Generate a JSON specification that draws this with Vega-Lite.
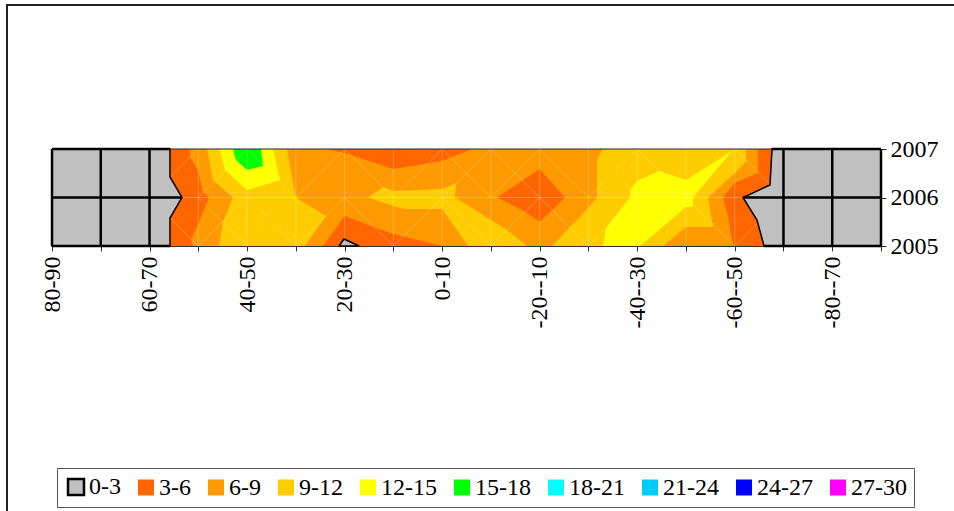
{"$schema":"https://vega.github.io/schema/vega-lite/v6.json","width":951,"height":510,"autosize":"none","padding":{"left":7,"top":5,"right":-4,"bottom":-4},"background":"white","config":{"view":{"stroke":"#222","strokeWidth":2},"font":"Liberation Serif","axis":{"labelOverlap":false,"labelBound":false,"labelFlush":false}},"datasets":{"polys":[
{"p":"base","b":"6-9","i":1,"lat":60.8,"yr":2007},{"p":"base","b":"6-9","i":2,"lat":-63.27,"yr":2007},{"p":"base","b":"6-9","i":3,"lat":-63.27,"yr":2005},{"p":"base","b":"6-9","i":4,"lat":60.8,"yr":2005},
{"p":"l36","b":"3-6","i":1,"lat":60.8,"yr":2007},{"p":"l36","b":"3-6","i":2,"lat":56.7,"yr":2007},{"p":"l36","b":"3-6","i":3,"lat":56.7,"yr":2006.835},{"p":"l36","b":"3-6","i":4,"lat":55.06,"yr":2006.567},{"p":"l36","b":"3-6","i":5,"lat":54.03,"yr":2006.113},{"p":"l36","b":"3-6","i":6,"lat":52.8,"yr":2006},{"p":"l36","b":"3-6","i":7,"lat":54.65,"yr":2005.536},{"p":"l36","b":"3-6","i":8,"lat":56.5,"yr":2005.124},{"p":"l36","b":"3-6","i":9,"lat":56.09,"yr":2005},{"p":"l36","b":"3-6","i":10,"lat":60.8,"yr":2005},
{"p":"l912","b":"9-12","i":1,"lat":53.21,"yr":2007},{"p":"l912","b":"9-12","i":2,"lat":51.98,"yr":2006.361},{"p":"l912","b":"9-12","i":3,"lat":47.88,"yr":2006},{"p":"l912","b":"9-12","i":4,"lat":49.93,"yr":2005.495},{"p":"l912","b":"9-12","i":5,"lat":50.75,"yr":2005},{"p":"l912","b":"9-12","i":6,"lat":33.12,"yr":2005},{"p":"l912","b":"9-12","i":7,"lat":28.81,"yr":2005.619},{"p":"l912","b":"9-12","i":8,"lat":35,"yr":2006},{"p":"l912","b":"9-12","i":9,"lat":36.81,"yr":2007},
{"p":"l1215","b":"12-15","i":1,"lat":50.55,"yr":2007},{"p":"l1215","b":"12-15","i":2,"lat":49.52,"yr":2006.567},{"p":"l1215","b":"12-15","i":3,"lat":45,"yr":2006.155},{"p":"l1215","b":"12-15","i":4,"lat":38.24,"yr":2006.361},{"p":"l1215","b":"12-15","i":5,"lat":39.68,"yr":2007},
{"p":"l1518","b":"15-18","i":1,"lat":47.88,"yr":2007},{"p":"l1518","b":"15-18","i":2,"lat":47.27,"yr":2006.773},{"p":"l1518","b":"15-18","i":3,"lat":45,"yr":2006.567},{"p":"l1518","b":"15-18","i":4,"lat":41.73,"yr":2006.649},{"p":"l1518","b":"15-18","i":5,"lat":42.14,"yr":2007},
{"p":"b36","b":"3-6","i":1,"lat":29.43,"yr":2005},{"p":"b36","b":"3-6","i":2,"lat":25,"yr":2005.619},{"p":"b36","b":"3-6","i":3,"lat":15,"yr":2005.247},{"p":"b36","b":"3-6","i":4,"lat":5,"yr":2005},
{"p":"t36","b":"3-6","i":1,"lat":28.61,"yr":2007},{"p":"t36","b":"3-6","i":2,"lat":25,"yr":2006.918},{"p":"t36","b":"3-6","i":3,"lat":15,"yr":2006.588},{"p":"t36","b":"3-6","i":4,"lat":5,"yr":2006.753},{"p":"t36","b":"3-6","i":5,"lat":-1.13,"yr":2007},
{"p":"c912","b":"9-12","i":1,"lat":20.2,"yr":2006},{"p":"c912","b":"9-12","i":2,"lat":17.12,"yr":2006.216},{"p":"c912","b":"9-12","i":3,"lat":15,"yr":2006.134},{"p":"c912","b":"9-12","i":4,"lat":5,"yr":2006.175},{"p":"c912","b":"9-12","i":5,"lat":2.15,"yr":2006.299},{"p":"c912","b":"9-12","i":6,"lat":2.36,"yr":2006},{"p":"c912","b":"9-12","i":7,"lat":-8.3,"yr":2005.33},{"p":"c912","b":"9-12","i":8,"lat":-12.41,"yr":2005},{"p":"c912","b":"9-12","i":9,"lat":-0.31,"yr":2005},{"p":"c912","b":"9-12","i":10,"lat":5,"yr":2005.763},{"p":"c912","b":"9-12","i":11,"lat":12.61,"yr":2005.763},{"p":"c912","b":"9-12","i":12,"lat":15,"yr":2005.825},
{"p":"d36","b":"3-6","i":1,"lat":-15,"yr":2006.588},{"p":"d36","b":"3-6","i":2,"lat":-20.2,"yr":2006},{"p":"d36","b":"3-6","i":3,"lat":-15,"yr":2005.495},{"p":"d36","b":"3-6","i":4,"lat":-11.79,"yr":2005.722},{"p":"d36","b":"3-6","i":5,"lat":-6.25,"yr":2006},
{"p":"r912","b":"9-12","i":1,"lat":-27.99,"yr":2007},{"p":"r912","b":"9-12","i":2,"lat":-26.76,"yr":2006.773},{"p":"r912","b":"9-12","i":3,"lat":-26.76,"yr":2006},{"p":"r912","b":"9-12","i":4,"lat":-25,"yr":2005.784},{"p":"r912","b":"9-12","i":5,"lat":-17.53,"yr":2005},{"p":"r912","b":"9-12","i":6,"lat":-40.3,"yr":2005},{"p":"r912","b":"9-12","i":7,"lat":-45,"yr":2005.392},{"p":"r912","b":"9-12","i":8,"lat":-50.55,"yr":2005.392},{"p":"r912","b":"9-12","i":9,"lat":-49.52,"yr":2006},{"p":"r912","b":"9-12","i":10,"lat":-55.06,"yr":2006.505},{"p":"r912","b":"9-12","i":11,"lat":-57.31,"yr":2006.732},{"p":"r912","b":"9-12","i":12,"lat":-57.31,"yr":2007},
{"p":"r1215","b":"12-15","i":1,"lat":-27.99,"yr":2005},{"p":"r1215","b":"12-15","i":2,"lat":-28.61,"yr":2005.371},{"p":"r1215","b":"12-15","i":3,"lat":-33.53,"yr":2006},{"p":"r1215","b":"12-15","i":4,"lat":-33.53,"yr":2006.155},{"p":"r1215","b":"12-15","i":5,"lat":-35,"yr":2006.34},{"p":"r1215","b":"12-15","i":6,"lat":-39.47,"yr":2006.546},{"p":"r1215","b":"12-15","i":7,"lat":-45,"yr":2006.361},{"p":"r1215","b":"12-15","i":8,"lat":-54.44,"yr":2006.959},{"p":"r1215","b":"12-15","i":9,"lat":-46.45,"yr":2006},{"p":"r1215","b":"12-15","i":10,"lat":-46.45,"yr":2005.804},{"p":"r1215","b":"12-15","i":11,"lat":-45,"yr":2005.804},{"p":"r1215","b":"12-15","i":12,"lat":-35.58,"yr":2005},
{"p":"r36","b":"3-6","i":1,"lat":-59.78,"yr":2007},{"p":"r36","b":"3-6","i":2,"lat":-59.78,"yr":2006.505},{"p":"r36","b":"3-6","i":3,"lat":-55,"yr":2006.299},{"p":"r36","b":"3-6","i":4,"lat":-52.6,"yr":2006},{"p":"r36","b":"3-6","i":5,"lat":-53.62,"yr":2005.598},{"p":"r36","b":"3-6","i":6,"lat":-54.65,"yr":2005},{"p":"r36","b":"3-6","i":7,"lat":-63.27,"yr":2005},{"p":"r36","b":"3-6","i":8,"lat":-63.27,"yr":2007}
],"gray":[
{"p":"gl","b":"0-3","i":1,"lat":85,"yr":2007},{"p":"gl","b":"0-3","i":2,"lat":60.8,"yr":2007},{"p":"gl","b":"0-3","i":3,"lat":60.8,"yr":2006.423},{"p":"gl","b":"0-3","i":4,"lat":58.34,"yr":2006},{"p":"gl","b":"0-3","i":5,"lat":60.8,"yr":2005.577},{"p":"gl","b":"0-3","i":6,"lat":60.8,"yr":2005},{"p":"gl","b":"0-3","i":7,"lat":85,"yr":2005},{"p":"gl","b":"0-3","i":8,"lat":85,"yr":2007},
{"p":"gr","b":"0-3","i":1,"lat":-85,"yr":2007},{"p":"gr","b":"0-3","i":2,"lat":-62.65,"yr":2007},{"p":"gr","b":"0-3","i":3,"lat":-62.24,"yr":2006.258},{"p":"gr","b":"0-3","i":4,"lat":-56.7,"yr":2006},{"p":"gr","b":"0-3","i":5,"lat":-59.57,"yr":2005.536},{"p":"gr","b":"0-3","i":6,"lat":-61.01,"yr":2005},{"p":"gr","b":"0-3","i":7,"lat":-85,"yr":2005},{"p":"gr","b":"0-3","i":8,"lat":-85,"yr":2007},
{"p":"gt","b":"0-3","i":1,"lat":26.15,"yr":2005},{"p":"gt","b":"0-3","i":2,"lat":25.12,"yr":2005.144},{"p":"gt","b":"0-3","i":3,"lat":22.04,"yr":2005},{"p":"gt","b":"0-3","i":4,"lat":26.15,"yr":2005}
],"mesh":[
{"a":85,"a2":-85,"c":2006,"c2":2006},{"a":60.8,"a2":60.8,"c":2005,"c2":2007},
{"a":55,"a2":55,"c":2005,"c2":2007},{"a":45,"a2":45,"c":2005,"c2":2007},{"a":35,"a2":35,"c":2005,"c2":2007},{"a":25,"a2":25,"c":2005,"c2":2007},{"a":15,"a2":15,"c":2005,"c2":2007},{"a":5,"a2":5,"c":2005,"c2":2007},{"a":-5,"a2":-5,"c":2005,"c2":2007},{"a":-15,"a2":-15,"c":2005,"c2":2007},{"a":-25,"a2":-25,"c":2005,"c2":2007},{"a":-35,"a2":-35,"c":2005,"c2":2007},{"a":-45,"a2":-45,"c":2005,"c2":2007},{"a":-55,"a2":-55,"c":2005,"c2":2007},
{"a":65,"a2":55,"c":2006,"c2":2007},{"a":55,"a2":45,"c":2006,"c2":2005},{"a":65,"a2":55,"c":2006,"c2":2005},
{"a":55,"a2":45,"c":2006,"c2":2007},{"a":45,"a2":35,"c":2007,"c2":2006},{"a":35,"a2":25,"c":2006,"c2":2007},{"a":25,"a2":15,"c":2007,"c2":2006},{"a":15,"a2":5,"c":2006,"c2":2007},{"a":5,"a2":-5,"c":2006,"c2":2007},{"a":5,"a2":-5,"c":2007,"c2":2006},{"a":-5,"a2":-15,"c":2006,"c2":2007},{"a":-5,"a2":-15,"c":2007,"c2":2006},{"a":-15,"a2":-25,"c":2007,"c2":2006},{"a":-25,"a2":-35,"c":2006,"c2":2007},{"a":-35,"a2":-45,"c":2007,"c2":2006},{"a":-45,"a2":-55,"c":2006,"c2":2007},{"a":-55,"a2":-65,"c":2007,"c2":2006},
{"a":55,"a2":45,"c":2005,"c2":2006},{"a":45,"a2":35,"c":2006,"c2":2005},{"a":35,"a2":25,"c":2005,"c2":2006},{"a":25,"a2":15,"c":2006,"c2":2005},{"a":15,"a2":5,"c":2005,"c2":2006},{"a":5,"a2":-5,"c":2006,"c2":2005},{"a":-5,"a2":-15,"c":2005,"c2":2006},{"a":-15,"a2":-25,"c":2006,"c2":2005},{"a":-25,"a2":-35,"c":2005,"c2":2006},{"a":-35,"a2":-45,"c":2005,"c2":2006},{"a":-45,"a2":-55,"c":2006,"c2":2005},{"a":-55,"a2":-65,"c":2005,"c2":2006}
],"edge":[{"a":60.8,"a2":-62.65,"c":2007,"c2":2007}],"grid":[
{"a":85,"a2":85,"c":2005,"c2":2007},{"a":75,"a2":75,"c":2005,"c2":2007},{"a":65,"a2":65,"c":2005,"c2":2007},
{"a":-65,"a2":-65,"c":2005,"c2":2007},{"a":-75,"a2":-75,"c":2005,"c2":2007},{"a":-85,"a2":-85,"c":2005,"c2":2007},
{"a":85,"a2":60.8,"c":2007,"c2":2007},{"a":85,"a2":58.34,"c":2006,"c2":2006},{"a":85,"a2":60.8,"c":2005,"c2":2005},
{"a":-62.65,"a2":-85,"c":2007,"c2":2007},{"a":-56.7,"a2":-85,"c":2006,"c2":2006},{"a":-61.01,"a2":-85,"c":2005,"c2":2005}
]},
"layer":[
{"data":{"name":"polys"},"mark":{"type":"line","strokeWidth":0},"encoding":{
"x":{"field":"lat","type":"quantitative","scale":{"domain":[85,-85],"range":[45,874],"nice":false,"zero":false},"axis":{"title":null,"grid":false,"offset":-269,"domain":true,"domainColor":"#333","tickColor":"#333","tickSize":5,"values":[85,75,65,55,45,35,25,15,5,-5,-15,-25,-35,-45,-55,-65,-75,-85],"labelExpr":"(85-datum.value)%20==0?(datum.value-5)+'-'+(datum.value+5):''","labelAngle":-90,"labelAlign":"right","labelBaseline":"middle","labelFont":"Liberation Serif","labelFontSize":24,"labelColor":"#000","labelPadding":5}},
"y":{"field":"yr","type":"quantitative","scale":{"domain":[2005,2007],"range":[241,144],"nice":false,"zero":false},"axis":{"orient":"right","title":null,"grid":false,"offset":-77,"domainColor":"#333","tickColor":"#333","tickSize":5,"tickCount":3,"format":"d","labelFont":"Liberation Serif","labelFontSize":24,"labelColor":"#000","labelPadding":4,"labelSeparation":0}},
"fill":{"field":"b","type":"nominal","scale":{"domain":["0-3","3-6","6-9","9-12","12-15","15-18","18-21","21-24","24-27","27-30"],"range":["#c0c0c0","#ff6600","#ff9900","#ffcc00","#ffff00","#00ff00","#00ffff","#00ccff","#0000ff","#ff00ff"]},"legend":{"title":null,"orient":"none","legendX":50,"legendY":463,"direction":"horizontal","columns":10,"gridAlign":"each","symbolType":"square","symbolSize":256,"symbolOpacity":1,"labelFont":"Liberation Serif","labelFontSize":24,"labelColor":"#000","labelOffset":1,"columnPadding":13,"padding":7,"strokeColor":"#555","fillColor":"#fff","labelLimit":100,"values":["0-3","3-6","6-9","9-12","12-15","15-18","18-21","21-24","24-27","27-30"],"symbolStrokeColor":"#111","symbolStrokeWidth":{"expr":"datum.value==='0-3'?2.5:0"}}},
"detail":{"field":"p"},"order":{"field":"i","type":"quantitative"}}},
{"data":{"name":"mesh"},"mark":{"type":"rule","color":"#fff","opacity":0.25,"strokeWidth":1},"encoding":{"x":{"field":"a","type":"quantitative"},"x2":{"field":"a2"},"y":{"field":"c","type":"quantitative"},"y2":{"field":"c2"}}},
{"data":{"name":"gray"},"mark":{"type":"line","stroke":"#000","strokeWidth":1.5},"encoding":{"x":{"field":"lat","type":"quantitative"},"y":{"field":"yr","type":"quantitative"},"fill":{"field":"b","type":"nominal"},"detail":{"field":"p"},"order":{"field":"i","type":"quantitative"}}},
{"data":{"name":"edge"},"mark":{"type":"rule","color":"#222","strokeWidth":1},"encoding":{"x":{"field":"a","type":"quantitative"},"x2":{"field":"a2"},"y":{"field":"c","type":"quantitative"},"y2":{"field":"c2"}}},
{"data":{"name":"grid"},"mark":{"type":"rule","color":"#000","strokeWidth":2.5},"encoding":{"x":{"field":"a","type":"quantitative"},"x2":{"field":"a2"},"y":{"field":"c","type":"quantitative"},"y2":{"field":"c2"}}}
]}
